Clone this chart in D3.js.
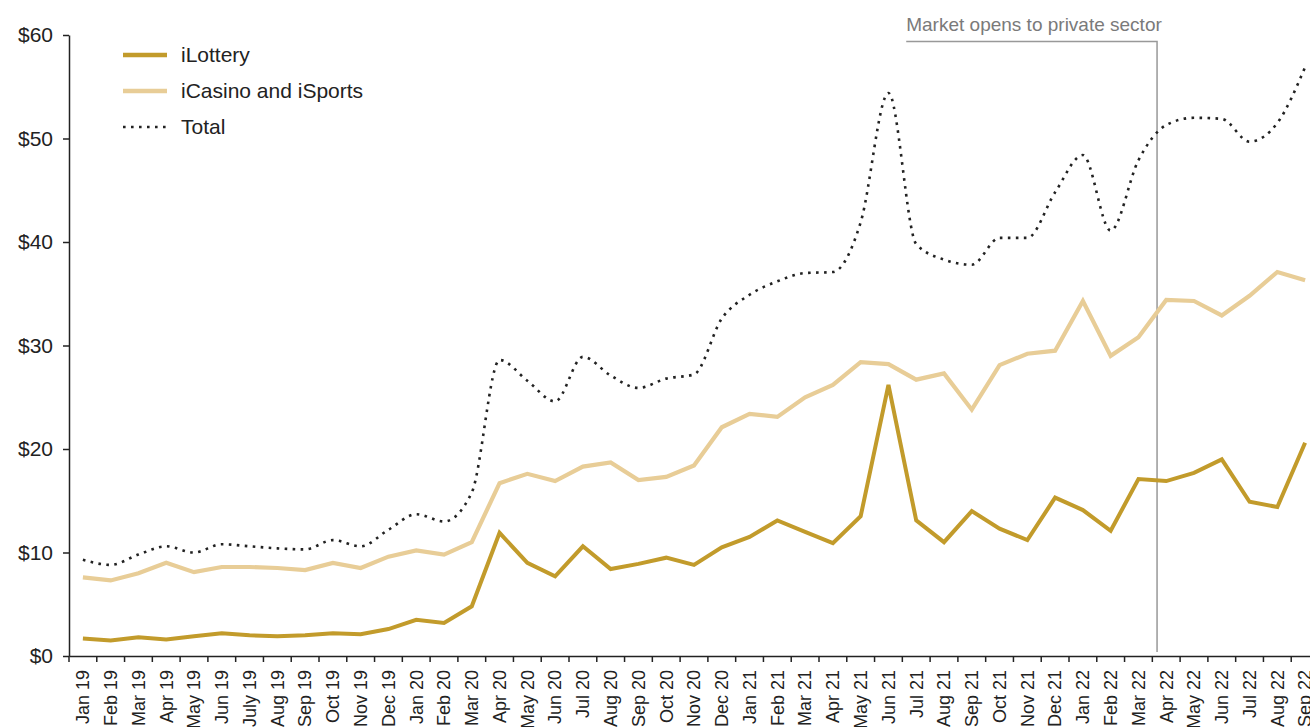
<!DOCTYPE html>
<html>
<head>
<meta charset="utf-8">
<script src="https://cdn.jsdelivr.net/npm/d3@7"></script>
<style>
  html, body { margin: 0; padding: 0; background: #fff; overflow: hidden; }
  svg { display: block; }
  .txt { font-family: "Liberation Sans", Arial, sans-serif; }
</style>
</head>
<body>
<svg id="chart" width="1310" height="727"></svg>
<script>
// Monthly revenue, $ millions
const months = [
  "Jan 19","Feb 19","Mar 19","Apr 19","May 19","Jun 19","July 19","Aug 19","Sep 19","Oct 19","Nov 19","Dec 19",
  "Jan 20","Feb 20","Mar 20","Apr 20","May 20","Jun 20","Jul 20","Aug 20","Sep 20","Oct 20","Nov 20","Dec 20",
  "Jan 21","Feb 21","Mar 21","Apr 21","May 21","Jun 21","Jul 21","Aug 21","Sep 21","Oct 21","Nov 21","Dec 21",
  "Jan 22","Feb 22","Mar 22","Apr 22","May 22","Jun 22","Jul 22","Aug 22","Sep 22"
];
const iLottery = [
  1.7, 1.5, 1.8, 1.6, 1.9, 2.2, 2.0, 1.9, 2.0, 2.2, 2.1, 2.6,
  3.5, 3.2, 4.8, 11.9, 9.0, 7.7, 10.6, 8.4, 8.9, 9.5, 8.8, 10.5,
  11.5, 13.1, 12.0, 10.9, 13.5, 26.2, 13.1, 11.0, 14.0, 12.3, 11.2, 15.3,
  14.1, 12.1, 17.1, 16.9, 17.7, 19.0, 14.9, 14.4, 20.6
];
const iCasino = [
  7.6, 7.3, 8.0, 9.0, 8.1, 8.6, 8.6, 8.5, 8.3, 9.0, 8.5, 9.6,
  10.2, 9.8, 11.0, 16.7, 17.6, 16.9, 18.3, 18.7, 17.0, 17.3, 18.4, 22.1,
  23.4, 23.1, 25.0, 26.2, 28.4, 28.2, 26.7, 27.3, 23.8, 28.1, 29.2, 29.5,
  34.3, 29.0, 30.8, 34.4, 34.3, 32.9, 34.8, 37.1, 36.3
];
const total = [
  9.3, 8.8, 9.8, 10.6, 10.0, 10.8, 10.6, 10.4, 10.3, 11.2, 10.6, 12.2,
  13.7, 13.0, 15.8, 28.6, 26.6, 24.6, 28.9, 27.1, 25.9, 26.8, 27.2, 32.6,
  34.9, 36.2, 37.0, 37.1, 41.9, 54.4, 39.8, 38.3, 37.8, 40.4, 40.4, 44.8,
  48.4, 41.1, 47.9, 51.3, 52.0, 51.9, 49.7, 51.5, 56.9
];
const yTicks = [0, 10, 20, 30, 40, 50, 60];
const seriesNames = ["iLottery", "iCasino and iSports", "Total"];
const annotationText = "Market opens to private sector";
const annotationMonth = "Apr 22";

const GOLD = "#c29b2b";
const SAND = "#e8cd97";
const INK = "#222222";

const svg = d3.select("#chart");
const margin = { left: 69, top: 35, bottom: 656, right: 1319 };

const x = d3.scaleBand().domain(months).range([margin.left, margin.right]).padding(0);
const y = d3.scaleLinear().domain([0, 60]).range([margin.bottom, margin.top]);
const cx = m => x(m) + x.bandwidth() / 2;

// Y axis
const yAxis = svg.append("g")
  .attr("transform", `translate(${margin.left},0)`)
  .call(d3.axisLeft(y).tickValues(yTicks).tickFormat(d => "$" + d).tickSize(6).tickSizeOuter(0).tickPadding(10));
yAxis.select(".domain").attr("stroke", INK).attr("stroke-width", 1.5);
yAxis.selectAll(".tick line").attr("stroke", INK).attr("stroke-width", 1.5);
yAxis.selectAll(".tick text")
  .attr("class", "txt")
  .attr("fill", INK)
  .style("font-size", "21px");

// X axis: labels centred in each month, ticks on month boundaries
const xAxis = svg.append("g")
  .attr("transform", `translate(0,${margin.bottom})`)
  .call(d3.axisBottom(x).tickSize(0).tickSizeOuter(0).tickPadding(0));
xAxis.select(".domain").attr("stroke", INK).attr("stroke-width", 1.5);
xAxis.selectAll(".tick text")
  .attr("class", "txt")
  .attr("fill", INK)
  .style("font-size", "18px")
  .attr("text-anchor", "end")
  .attr("transform", "rotate(-90)")
  .attr("x", -14)
  .attr("y", 0)
  .attr("dy", "0.35em");
xAxis.selectAll(".boundary")
  .data(d3.range(months.length + 1))
  .join("line")
  .attr("class", "boundary")
  .attr("x1", i => margin.left + i * x.step())
  .attr("x2", i => margin.left + i * x.step())
  .attr("y1", 0).attr("y2", 6)
  .attr("stroke", INK).attr("stroke-width", 1.5);

// Annotation: vertical marker where the market opens
const ax = x(annotationMonth) + x.bandwidth() * 0.17;
const annX0 = x("Jul 21") + x.bandwidth() * 0.14;
const annY = 41.5;
svg.append("path")
  .attr("d", `M${annX0},${annY}H${ax}V${margin.bottom - 4}`)
  .attr("fill", "none")
  .attr("stroke", "#999")
  .attr("stroke-width", 1.5);
svg.append("text")
  .attr("class", "txt")
  .attr("x", annX0)
  .attr("y", 31)
  .attr("fill", "#7a7a7a")
  .style("font-size", "19px")
  .text(annotationText);

// Lines
const lineStraight = vals => d3.line().x((d, i) => cx(months[i])).y(d => y(d))(vals);
const lineSmooth = vals => d3.line().curve(d3.curveMonotoneX).x((d, i) => cx(months[i])).y(d => y(d))(vals);

svg.append("path")
  .attr("d", lineSmooth(total))
  .attr("fill", "none")
  .attr("stroke", INK)
  .attr("stroke-width", 2.6)
  .attr("stroke-dasharray", "2.6,5.4");

svg.append("path")
  .attr("d", lineStraight(iCasino))
  .attr("fill", "none")
  .attr("stroke", SAND)
  .attr("stroke-width", 4.2)
  .attr("stroke-linejoin", "miter");

svg.append("path")
  .attr("d", lineStraight(iLottery))
  .attr("fill", "none")
  .attr("stroke", GOLD)
  .attr("stroke-width", 4)
  .attr("stroke-linejoin", "miter");

// Legend
const legendStyles = [
  { stroke: GOLD, width: 4.5, dash: null },
  { stroke: SAND, width: 4.5, dash: null },
  { stroke: INK, width: 2.6, dash: "2.6,5.4" }
];
const legend = svg.append("g");
seriesNames.forEach((name, i) => {
  const ly = 55 + i * 36;
  const st = legendStyles[i];
  legend.append("line")
    .attr("x1", 123).attr("x2", 167)
    .attr("y1", ly).attr("y2", ly)
    .attr("stroke", st.stroke)
    .attr("stroke-width", st.width)
    .attr("stroke-dasharray", st.dash);
  legend.append("text")
    .attr("class", "txt")
    .attr("x", 181).attr("y", ly)
    .attr("dy", "0.35em")
    .attr("fill", INK)
    .style("font-size", "21px")
    .text(name);
});
</script>
</body>
</html>
